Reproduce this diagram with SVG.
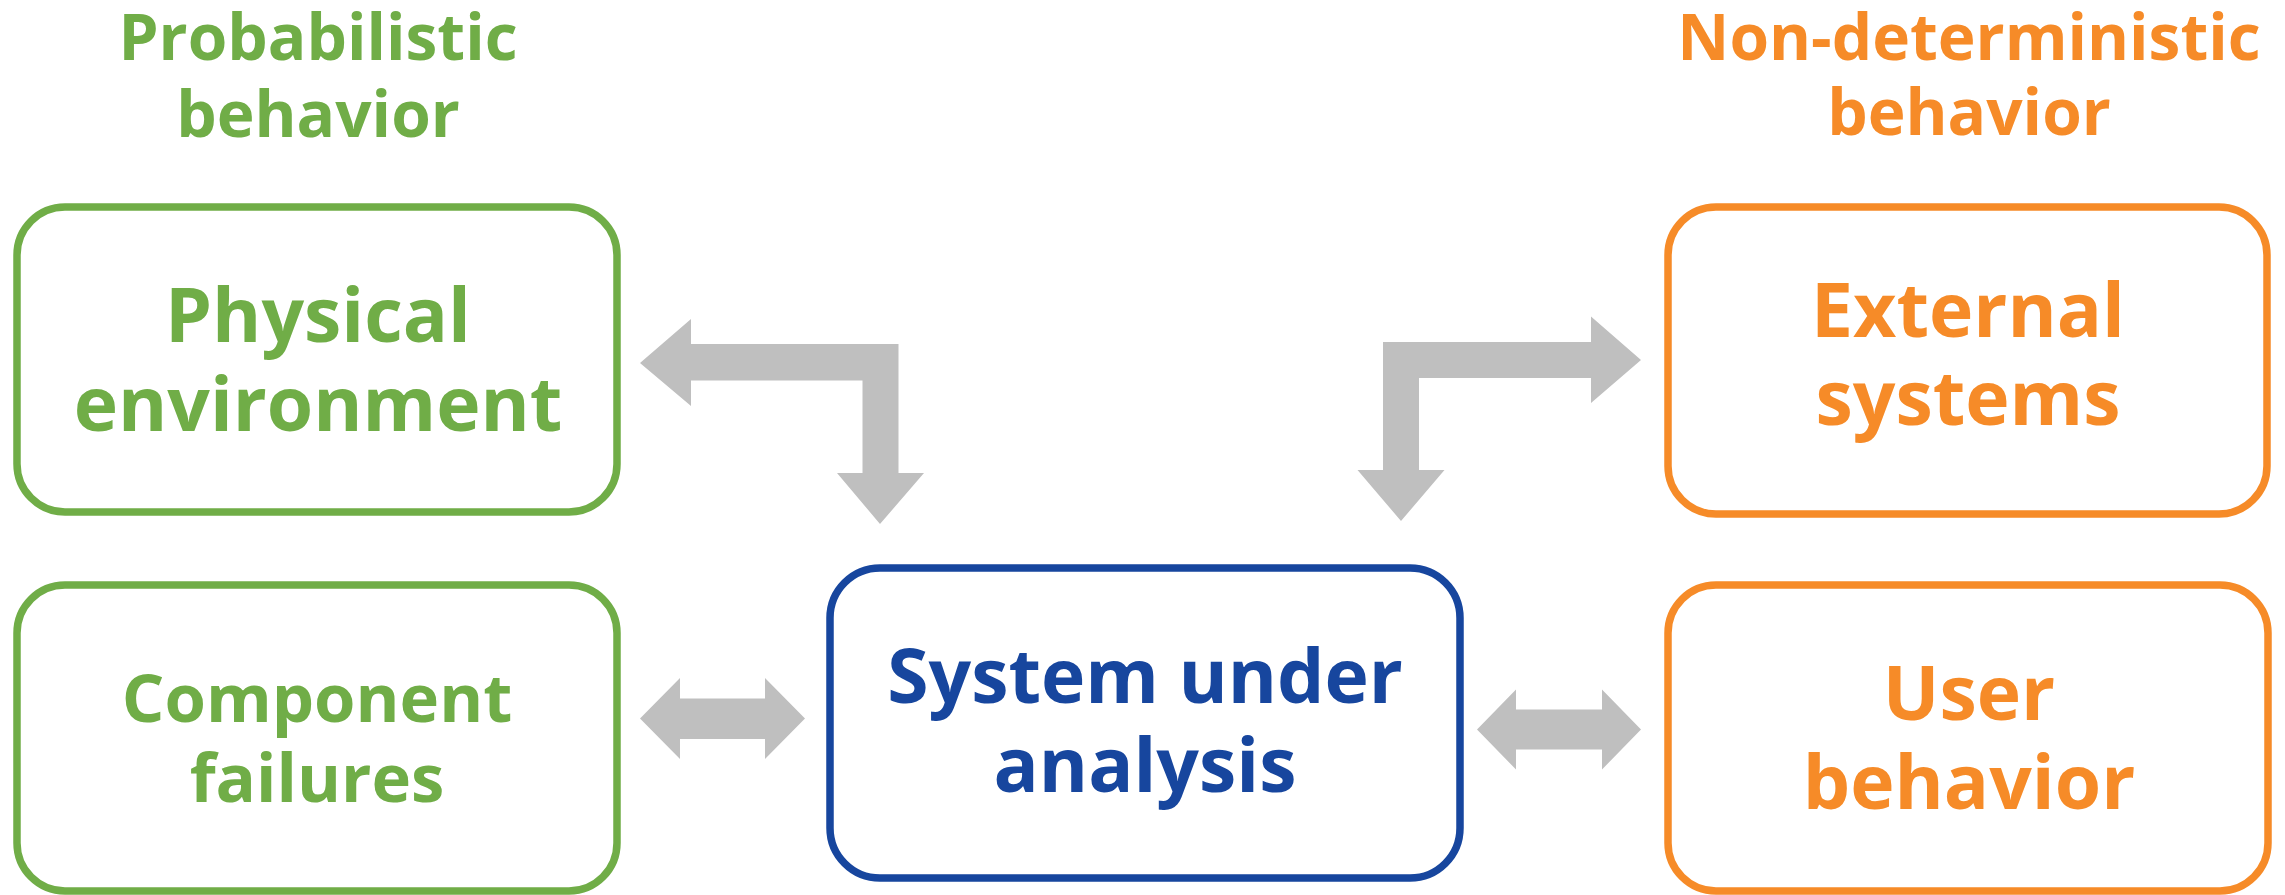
<svg xmlns="http://www.w3.org/2000/svg" width="2285" height="895" viewBox="0 0 2285 895">
  <style>
    .box { fill: #ffffff; stroke-width: 7.5; }
    .green { stroke: #70AD47; }
    .orange { stroke: #F68B28; }
    .blue { stroke: #17469E; }
    text { font-family: "Open Sans", "Liberation Sans", sans-serif; font-weight: 700; text-anchor: middle; }
    .tg { fill: #70AD47; }
    .to { fill: #F68B28; }
    .tb { fill: #17469E; }
    .head { font-size: 64px; }
    .big { font-size: 75px; }
    .mid { font-size: 67px; }
    .arrow { fill: #BFBFBF; stroke: none; }
  </style>

  <!-- column headings -->
  <g id="heading-probabilistic">
    <text class="tg head" x="318" y="60">Probabilistic</text>
    <text class="tg head" x="318" y="137">behavior</text>
  </g>
  <g id="heading-nondeterministic">
    <text class="to head" x="1969" y="60">Non-deterministic</text>
    <text class="to head" x="1969" y="135">behavior</text>
  </g>

  <!-- nodes -->
  <g id="physical-environment">
    <rect class="box green" x="17" y="207" width="600" height="305" rx="48" ry="48"/>
    <text class="tg big" x="318" y="342">Physical</text>
    <text class="tg big" x="318" y="431">environment</text>
  </g>
  <g id="component-failures">
    <rect class="box green" x="17" y="585" width="600" height="306" rx="48" ry="48"/>
    <text class="tg mid" x="317" y="722">Component</text>
    <text class="tg mid" x="317" y="802">failures</text>
  </g>
  <g id="system-under-analysis">
    <rect class="box blue" x="830" y="568" width="630" height="310" rx="50" ry="50"/>
    <text class="tb big" x="1145" y="703">System under</text>
    <text class="tb big" x="1145" y="792">analysis</text>
  </g>
  <g id="external-systems">
    <rect class="box orange" x="1668" y="207" width="599" height="307" rx="48" ry="48"/>
    <text class="to big" x="1968" y="337">External</text>
    <text class="to big" x="1968" y="425">systems</text>
  </g>
  <g id="user-behavior">
    <rect class="box orange" x="1668" y="585" width="600" height="306" rx="48" ry="48"/>
    <text class="to big" x="1969" y="720">User</text>
    <text class="to big" x="1969" y="809">behavior</text>
  </g>

  <!-- connectors: wide block arrows -->
  <g id="connectors">
    <path class="arrow" d="M640,363 L691,319 L691,344 L898.5,344 L898.5,473 L924,473 L880,524 L837,473 L862.5,473 L862.5,380.5 L691,380.5 L691,406 Z"/>
    <path class="arrow" d="M1641,360 L1591,316.5 L1591,342 L1383,342 L1383,470 L1357.5,470 L1401,521 L1444.5,470 L1419,470 L1419,378 L1591,378 L1591,403 Z"/>
    <path class="arrow" d="M640,718.5 L680,678 L680,698.5 L765,698.5 L765,678 L805,718.5 L765,759 L765,739 L680,739 L680,759 Z"/>
    <path class="arrow" d="M1477,729.5 L1516,689.5 L1516,709.5 L1602,709.5 L1602,689.5 L1641,729.5 L1602,769.5 L1602,749.5 L1516,749.5 L1516,769.5 Z"/>
  </g>
</svg>
